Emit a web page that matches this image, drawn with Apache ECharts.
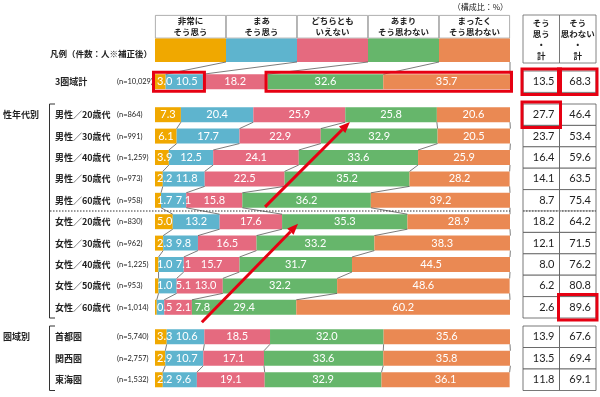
<!DOCTYPE html>
<html>
<head>
<meta charset="utf-8">
<script src="https://cdn.jsdelivr.net/npm/echarts@6/dist/echarts.min.js"></script>
<style>
  html, body { margin: 0; padding: 0; background: #fff; }
  #main { width: 600px; height: 397px; }
</style>
</head>
<body>
<div id="main"></div>
<script>
// 回答カテゴリ
const answers = ['非常に\nそう思う', 'まあ\nそう思う', 'どちらとも\nいえない', 'あまり\nそう思わない', 'まったく\nそう思わない'];
const colors = ['#F0A800', '#5EB4CE', '#E56A7F', '#66B66B', '#EA8953'];
const sumHeaders = ['そう\n思う\n・\n計', 'そう\n思わない\n・\n計'];

// 3圏域計
const totalRows = ['3圏域計'];
const totalN = ['10,029'];
const totalValues = [[3.0], [10.5], [18.2], [32.6], [35.7]];
const totalAgree = [13.5];
const totalDisagree = [68.3];

// 性年代別
const sexAgeRows = ['男性／20歳代', '男性／30歳代', '男性／40歳代', '男性／50歳代', '男性／60歳代',
  '女性／20歳代', '女性／30歳代', '女性／40歳代', '女性／50歳代', '女性／60歳代'];
const sexAgeN = ['864', '991', '1,259', '973', '958', '830', '962', '1,225', '953', '1,014'];
const sexAgeValues = [
  [7.3, 6.1, 3.9, 2.2, 1.7, 5.0, 2.3, 1.0, 1.0, 0.5],
  [20.4, 17.7, 12.5, 11.8, 7.1, 13.2, 9.8, 7.1, 5.1, 2.1],
  [25.9, 22.9, 24.1, 22.5, 15.8, 17.6, 16.5, 15.7, 13.0, 7.8],
  [25.8, 32.9, 33.6, 35.2, 36.2, 35.3, 33.2, 31.7, 32.2, 29.4],
  [20.6, 20.5, 25.9, 28.2, 39.2, 28.9, 38.3, 44.5, 48.6, 60.2]
];
const sexAgeAgree = [27.7, 23.7, 16.4, 14.1, 8.7, 18.2, 12.1, 8.0, 6.2, 2.6];
const sexAgeDisagree = [46.4, 53.4, 59.6, 63.5, 75.4, 64.2, 71.5, 76.2, 80.8, 89.6];

// 圏域別
const regionRows = ['首都圏', '関西圏', '東海圏'];
const regionN = ['5,740', '2,757', '1,532'];
const regionValues = [
  [3.3, 2.9, 2.2],
  [10.6, 10.7, 9.6],
  [18.5, 17.1, 19.1],
  [32.0, 33.6, 32.9],
  [35.6, 35.8, 36.1]
];
const regionAgree = [13.9, 13.5, 11.8];
const regionDisagree = [67.6, 69.4, 69.1];

// 強調（赤枠）: [列, 行]
const totalCellMarks = [[0, 0], [1, 0]];
const sexAgeCellMarks = [[0, 0], [1, 9]];
// 赤枠（帯）: 区分の範囲 [from, to)
const totalBarMarks = [[0, 2], [3, 5]];
// 赤矢印（性年代別）: [始点値, 始点行, 終点値, 終点行]
const sexAgeArrows = [[31, 4.31, 54.9, 0.34], [13.2, 9.7, 40.3, 5.1]];

const groups = [
  { rows: totalRows, n: totalN, values: totalValues, agree: totalAgree, disagree: totalDisagree, marks: totalCellMarks },
  { rows: sexAgeRows, n: sexAgeN, values: sexAgeValues, agree: sexAgeAgree, disagree: sexAgeDisagree, marks: sexAgeCellMarks },
  { rows: regionRows, n: regionN, values: regionValues, agree: regionAgree, disagree: regionDisagree, marks: [] }
];

const JP = '"Noto Sans CJK JP", sans-serif';
const NUM = 'Lato, "DejaVu Sans", sans-serif';
const RED = '#E60012';
const barLeft = 155, barW = 355, tabLeft = 523, tabW = 73;
const groupBox = [[71, 21.4], [104, 214], [326, 64.5]];

// ラベルの重なり回避（値から計算）
const ctx = document.createElement('canvas').getContext('2d');
ctx.font = '11px ' + NUM;
function labelOffsets(vals) {
  const unit = barW / 100;
  let cum = 0, prevRight = -Infinity;
  return vals.map(v => {
    const c = (cum + v / 2) * unit;
    const w = ctx.measureText(v.toFixed(1)).width;
    const nc = Math.max(c, w / 2 + 2, prevRight + 3.5 + w / 2);
    prevRight = nc + w / 2;
    cum += v;
    return nc - c;
  });
}

const grid = [{ left: barLeft, top: 15, width: barW, height: 47 }];
groupBox.forEach(b => grid.push({ left: barLeft, top: b[0], width: barW, height: b[1] }));
grid.push({ left: tabLeft, top: 15, width: tabW, height: 48 });
groupBox.forEach(b => grid.push({ left: tabLeft, top: b[0], width: tabW, height: b[1] }));

const xAxis = [], yAxis = [], series = [];
// 凡例の帯
xAxis.push({ type: 'value', gridIndex: 0, min: 0, max: 100, show: false });
yAxis.push({ type: 'category', gridIndex: 0, inverse: true, data: ['text', 'color'], show: false });
answers.forEach((a, i) => {
  series.push({
    type: 'bar', xAxisIndex: 0, yAxisIndex: 0, stack: 'legend', barCategoryGap: '0%',
    data: [
      { value: 100 / answers.length, itemStyle: { color: '#fff', borderColor: '#9a9a9a', borderWidth: 0.8 },
        label: { show: true, formatter: a, color: '#222', fontSize: 8.5, fontWeight: 'bold', lineHeight: 11, fontFamily: JP } },
      { value: 100 / answers.length, itemStyle: { color: colors[i] } }
    ]
  });
});

groups.forEach((g, gi) => {
  const ax = gi + 1;
  xAxis.push({ type: 'value', gridIndex: ax, min: 0, max: 100, show: false });
  yAxis.push({
    type: 'category', gridIndex: ax, inverse: true, data: g.rows,
    axisLine: { show: false }, axisTick: { show: false },
    axisLabel: {
      align: 'left', margin: 100,
      formatter: (v, i) => '{a|' + v + '}{b|(n=' + g.n[i] + ')}',
      rich: {
        a: { width: 62, fontSize: 9, fontWeight: 'bold', color: '#222', fontFamily: JP },
        b: { fontSize: 7.5, color: '#222', fontFamily: NUM }
      }
    }
  });
  const offs = g.rows.map((r, ri) => labelOffsets(g.values.map(s => s[ri])));
  g.values.forEach((vals, si) => {
    series.push({
      type: 'bar', xAxisIndex: ax, yAxisIndex: ax, stack: 'g' + gi, barWidth: '70%',
      itemStyle: { color: colors[si] },
      label: { show: true, position: 'inside', color: '#fff', fontSize: 11, fontFamily: NUM,
        formatter: p => p.value.toFixed(1) },
      data: vals.map((v, ri) => ({ value: v, label: { offset: [offs[ri][si], 0] } }))
    });
  });
});

// 表
function renderCell(params, api) {
  const c = api.coord([api.value(0), api.value(1)]);
  const s = api.size([1, 1]);
  const x = c[0] - s[0] / 2, y = c[1] - s[1] / 2;
  const children = [
    { type: 'rect', shape: { x: x, y: y, width: s[0], height: s[1] }, style: { fill: '#fff', stroke: '#555', lineWidth: 0.8 } },
    { type: 'text', style: { x: x + s[0] - 5, y: c[1], text: api.value(2).toFixed(1), align: 'right', verticalAlign: 'middle',
      fill: '#222', font: '11px ' + NUM } }
  ];
  if (api.value(3)) {
    children.push({ type: 'rect', z2: 10, shape: { x: x - 1, y: y - 2, width: s[0] + 2, height: s[1] + 4 },
      style: { fill: 'none', stroke: RED, lineWidth: 3 } });
  }
  return { type: 'group', children: children };
}
xAxis.push({ type: 'category', gridIndex: 4, data: ['agree', 'disagree'], show: false });
yAxis.push({ type: 'category', gridIndex: 4, data: ['h'], show: false });
series.push({
  type: 'custom', xAxisIndex: 4, yAxisIndex: 4,
  data: sumHeaders.map((h, i) => [i, 0]),
  renderItem: (params, api) => {
    const c = api.coord([api.value(0), 0]);
    const s = api.size([1, 1]);
    return { type: 'group', children: [
      { type: 'rect', shape: { x: c[0] - s[0] / 2, y: c[1] - s[1] / 2, width: s[0], height: s[1] }, style: { fill: '#fff', stroke: '#666', lineWidth: 0.8 } },
      { type: 'text', style: { x: c[0], y: c[1], text: sumHeaders[params.dataIndex], align: 'center', verticalAlign: 'middle',
        fill: '#222', font: 'bold 8.5px ' + JP, lineHeight: 11 } }
    ] };
  }
});
groups.forEach((g, gi) => {
  const ax = gi + 5;
  xAxis.push({ type: 'category', gridIndex: ax, data: ['agree', 'disagree'], show: false });
  yAxis.push({ type: 'category', gridIndex: ax, inverse: true, data: g.rows, show: false });
  const data = [];
  g.rows.forEach((r, ri) => {
    [g.agree[ri], g.disagree[ri]].forEach((v, ci) => {
      const mark = g.marks.some(m => m[0] === ci && m[1] === ri) ? 1 : 0;
      data.push([ci, ri, v, mark]);
    });
  });
  series.push({ type: 'custom', xAxisIndex: ax, yAxisIndex: ax, data: data, renderItem: renderCell });
});

const chart = echarts.init(document.getElementById('main'));
chart.setOption({
  animation: false,
  grid: grid, xAxis: xAxis, yAxis: yAxis, series: series
});

// 補助線・注記
const G = [];
const px = (gi, x, r) => chart.convertToPixel({ gridIndex: gi }, [x, r]);
function band(gi, n) { return n > 1 ? px(gi, 0, 1)[1] - px(gi, 0, 0)[1] : groupBox[gi - 1][1]; }
function seg(x1, y1, x2, y2, color, w, dash) {
  G.push({ type: 'line', z: 100, shape: { x1: x1, y1: y1, x2: x2, y2: y2 },
    style: { stroke: color, lineWidth: w, lineDash: dash || null } });
}
function cums(vals) { let c = 0; return vals.map(v => (c += v)); }

// 凡例 → 3圏域計
{
  const hb = px(0, 0, 1)[1] + (px(0, 0, 1)[1] - px(0, 0, 0)[1]) / 2;
  const cs = cums(totalValues.map(s => s[0]));
  const top = px(1, 0, 0)[1] - band(1, 1) * 0.35;
  cs.forEach((c, k) => {
    const a = px(0, 100 / answers.length * (k + 1), 1)[0];
    seg(a, hb, px(1, c, 0)[0], top, '#444', 0.7);
  });
}
// 行間の連結線
groups.forEach((g, i) => {
  const gi = i + 1, b = band(gi, g.rows.length) * 0.35;
  for (let r = 0; r + 1 < g.rows.length; r++) {
    const c1 = cums(g.values.map(s => s[r])), c2 = cums(g.values.map(s => s[r + 1]));
    const y1 = px(gi, 0, r)[1] + b, y2 = px(gi, 0, r + 1)[1] - b;
    c1.forEach((c, k) => seg(px(gi, c, r)[0], y1, px(gi, c2[k], r)[0], y2, '#444', 0.7));
  }
});
// 男女の区切り（点線）
{
  const y = (px(2, 0, 4)[1] + px(2, 0, 5)[1]) / 2;
  seg(50, y, barLeft + barW, y, '#333', 1, [1.5, 1.5]);
  seg(tabLeft, y, tabLeft + tabW, y, '#fff', 1.2);
  seg(tabLeft, y, tabLeft + tabW, y, '#333', 1, [1.5, 1.5]);
}
// 括弧とグループ名
[[2, '性年代別'], [3, '圏域別']].forEach(([gi, name]) => {
  const t = groupBox[gi - 1][0], h = groupBox[gi - 1][1];
  seg(49.5, t, 49.5, t + h, '#333', 1);
  seg(49.5, t, 55, t, '#333', 1);
  seg(49.5, t + h, 55, t + h, '#333', 1);
  G.push({ type: 'text', z: 100, style: { x: 3, y: px(gi, 0, 0)[1], text: name, verticalAlign: 'middle',
    fill: '#222', font: 'bold 9px ' + JP } });
});
G.push({ type: 'text', z: 100, style: { x: 152, y: px(0, 0, 1)[1] + 4, text: '凡例（件数：人※補正後）', align: 'right',
  verticalAlign: 'middle', fill: '#222', font: 'bold 8.5px ' + JP } });
G.push({ type: 'text', z: 100, style: { x: 508, y: 7, text: '（構成比：%）', align: 'right',
  verticalAlign: 'middle', fill: '#222', font: '8px ' + JP } });

// 赤枠（帯）
totalBarMarks.forEach(([a, b]) => {
  const vals = totalValues.map(s => s[0]);
  const start = vals.slice(0, a).reduce((s, v) => s + v, 0);
  const end = vals.slice(0, b).reduce((s, v) => s + v, 0);
  const hb = band(1, 1) * 0.35;
  const p1 = px(1, start, 0), p2 = px(1, Math.min(end, 100), 0);
  G.push({ type: 'rect', z: 110, shape: { x: p1[0] - 1.5, y: p1[1] - hb - 2, width: p2[0] - p1[0] + 3, height: hb * 2 + 4 },
    style: { fill: 'none', stroke: RED, lineWidth: 3 } });
});
// 赤矢印
sexAgeArrows.forEach(([v1, r1, v2, r2]) => {
  const b = band(2, 10), y0 = px(2, 0, 0)[1];
  const x1 = px(2, v1, 0)[0], x2 = px(2, v2, 0)[0];
  const ya = y0 + r1 * b, yb = y0 + r2 * b;
  const ang = Math.atan2(yb - ya, x2 - x1), L = 11, W = 4.5;
  const bx = x2 - L * Math.cos(ang), by = yb - L * Math.sin(ang);
  seg(x1, ya, bx, by, RED, 3);
  G.push({ type: 'polygon', z: 120, shape: { points: [
    [x2, yb],
    [bx + W * Math.sin(ang), by - W * Math.cos(ang)],
    [bx - W * Math.sin(ang), by + W * Math.cos(ang)]
  ] }, style: { fill: RED } });
});

chart.setOption({ graphic: { elements: G } });
</script>
</body>
</html>
